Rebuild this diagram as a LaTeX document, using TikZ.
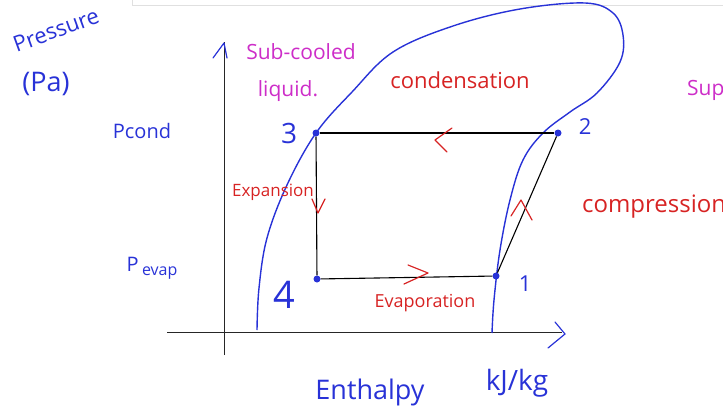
\documentclass[tikz,border=0pt]{standalone}
\usepackage{fontspec}
\setmainfont{Open Sans}
\usetikzlibrary{positioning}
\definecolor{inkblue}{RGB}{40,50,215}
\definecolor{inkred}{RGB}{215,35,35}
\definecolor{inkpink}{RGB}{205,45,200}

\begin{document}
\begin{tikzpicture}[
  x=1pt, y=-1pt,
  state/.style={circle, fill=inkblue, inner sep=0pt, minimum size=7pt},
  statelbl/.style={text=inkblue, inner sep=1pt},
  axislbl/.style={text=inkblue, inner sep=1pt, font=\fontsize{20}{22}\selectfont},
  process/.style={text=inkred, inner sep=1pt, font=\fontsize{17}{19}\selectfont},
  region/.style={text=inkpink, inner sep=1pt, font=\fontsize{21}{23}\selectfont},
  cycleline/.style={black, line width=1.1pt},
  dome/.style={inkblue, line width=1.4pt},
  ink/.style={line width=1.2pt, line cap=round, line join=round},
  axis/.style={black!85, line width=1pt}
]
\useasboundingbox (0,0) rectangle (723,418);
% frame of the screenshot
\draw[black!12, line width=1pt] (132,0) -- (132,5) -- (723,5);

% axes
\coordinate (ybot) at (224,355);
\coordinate (ytop) at (224,42);
\coordinate (xleft) at (167,332);
\coordinate (xright) at (562,332);
\draw[axis] (ybot) -- (ytop);
\draw[axis] (xleft) -- (xright);
\draw[ink, inkblue] (213,58) -- (224,43) -- (227,58);
\draw[ink, inkblue] (555,322) -- (565,334) -- (548,348);

% saturation dome
\draw[dome] plot[smooth, tension=0.6] coordinates {
  (257,330) (259,288) (267,238) (287,185) (316,133) (352,92)
  (393,52) (453,26) (520,9) (585,3) (613,13) (623,35) (620,62) (597,93)
  (570,112) (543,133) (523,160) (510,200) (500,250) (494,300) (492,333)};

% cycle
\node[state] (p3) at (316,133) {};
\node[state] (p2) at (558,133) {};
\node[state] (p1) at (496,276) {};
\node[state] (p4) at (317,279) {};
\draw[cycleline] (p3) -- (p2);
\draw[cycleline] (p3) -- (p4);
\draw[cycleline] (p4) -- (p1);
\draw[cycleline] (p1) -- (p2);

\node[statelbl, font=\fontsize{28}{30}\selectfont, left=14pt of p3] (n3) {3};
\node[statelbl, font=\fontsize{22}{24}\selectfont, right=16pt of p2, yshift=6pt] (n2) {2};
\node[statelbl, font=\fontsize{22}{24}\selectfont, right=18pt of p1, yshift=-8pt] (n1) {1};
\node[statelbl, font=\fontsize{38}{40}\selectfont, below left=-2pt and 18pt of p4] (n4) {4};

% direction marks
\draw[ink, inkred] (452,128) -- (435,140) -- (447,152);
\draw[ink, inkred] (312,199) -- (318,213) -- (325,199);
\draw[ink, inkred] (408,265) -- (428,273) -- (404,284);
\draw[ink, inkred] (511,216) -- (521,200) -- (532,220);

% process labels
\node[process, font=\fontsize{22}{24}\selectfont] (cond) at (460,80) {condensation};
\node[process] (expn) at (273,192) {Expansion};
\node[process, font=\fontsize{18}{20}\selectfont] (evap) at (425,303) {Evaporation};
\node[process, anchor=west, font=\fontsize{24}{26}\selectfont] (comp) at (581,207) {compression};

% regions
\node[region] (sub) at (301,52) {Sub-cooled};
\node[region] (liq) at (288,91) {liquid.};
\node[region, anchor=west] (sup) at (686,90) {Superheated};

% axis labels
\node[axislbl, rotate=20, font=\fontsize{22}{24}\selectfont] (pres) at (56,30) {Pressure};
\node[axislbl, font=\fontsize{27}{29}\selectfont] (pa) at (46,84) {(Pa)};
\node[axislbl] (pcond) at (142,131) {Pcond};
\node[axislbl] (pevap) at (152,268) {P\,\raisebox{-4pt}{\fontsize{16}{18}\selectfont evap}};
\node[axislbl, font=\fontsize{27}{29}\selectfont] (enth) at (370,392) {Enthalpy};
\node[axislbl, font=\fontsize{28}{30}\selectfont] (unit) at (517,383) {kJ/kg};
\end{tikzpicture}
\end{document}
